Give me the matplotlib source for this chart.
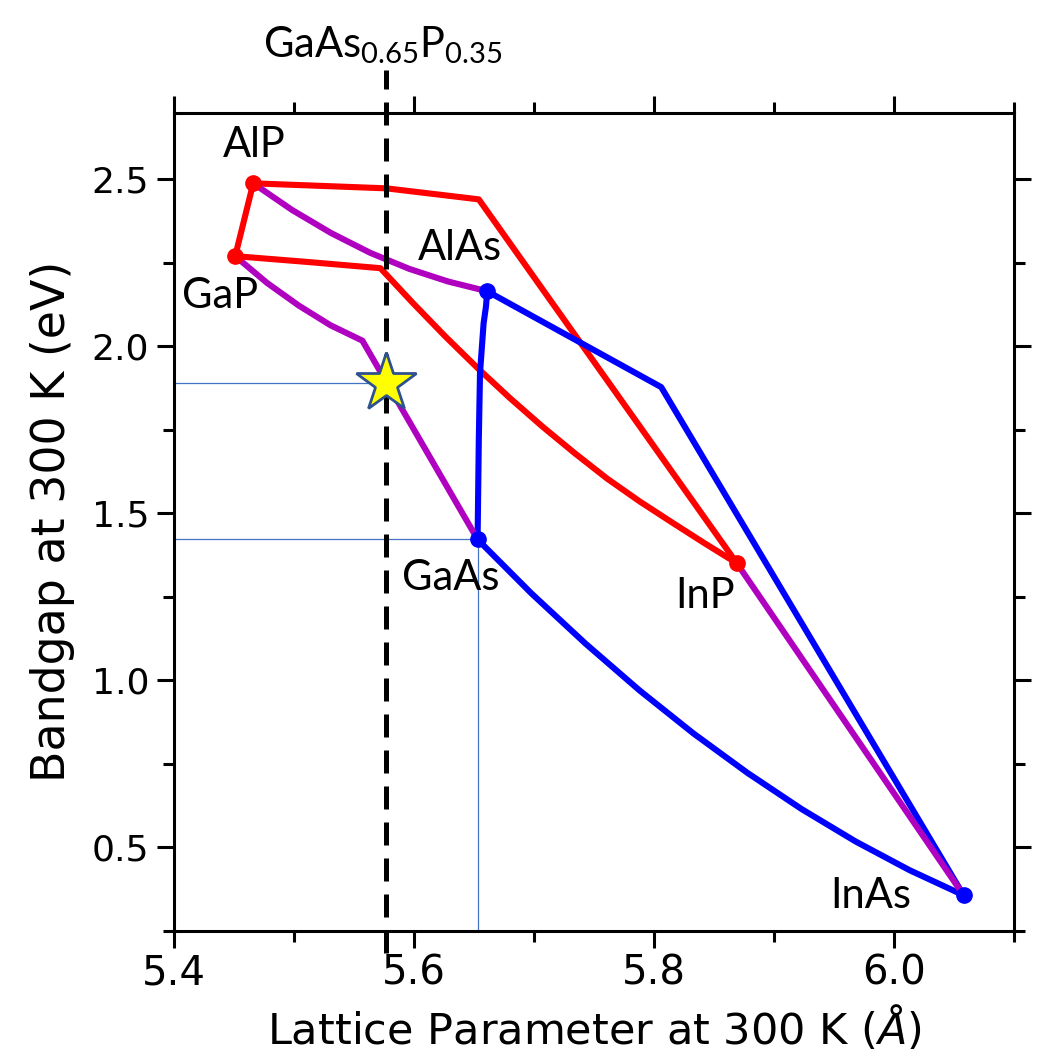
import numpy as np
import matplotlib
matplotlib.use("Agg")
import matplotlib.pyplot as plt
from matplotlib.ticker import MultipleLocator

# ---- data (lattice parameter in Angstrom, bandgap in eV) ----
binaries = ["AlP", "GaP", "AlAs", "GaAs", "InP", "InAs"]
bin_a = [5.466, 5.451, 5.661, 5.653, 5.869, 6.058]
bin_eg = [2.488, 2.270, 2.165, 1.422, 1.351, 0.357]
bin_colors = ["red", "red", "blue", "blue", "red", "blue"]

# red (phosphide) ternaries
alp_gap_a = [5.466, 5.451]
alp_gap_eg = [2.488, 2.270]
alp_inp_a = [5.466, 5.577, 5.654, 5.869]
alp_inp_eg = [2.488, 2.473, 2.440, 1.351]
gap_inp_a = [5.451, 5.510, 5.572, 5.599, 5.626, 5.653, 5.680, 5.707, 5.734,
             5.761, 5.788, 5.815, 5.842, 5.869]
gap_inp_eg = [2.270, 2.253, 2.234, 2.130, 2.030, 1.935, 1.845, 1.760, 1.680,
              1.604, 1.536, 1.473, 1.411, 1.351]

# purple (mixed-anion) ternaries
alp_alas_a = [5.466, 5.4985, 5.531, 5.5635, 5.596, 5.6285, 5.661]
alp_alas_eg = [2.488, 2.408, 2.339, 2.280, 2.232, 2.194, 2.165]
gap_gaas_a = [5.451, 5.4775, 5.504, 5.5305, 5.557, 5.653]
gap_gaas_eg = [2.270, 2.190, 2.122, 2.063, 2.017, 1.422]
inp_inas_a = [5.869, 6.058]
inp_inas_eg = [1.351, 0.357]

# blue (arsenide) ternaries
alas_gaas_a = [5.661, 5.660, 5.658, 5.655, 5.654, 5.653]
alas_gaas_eg = [2.165, 2.120, 2.069, 1.920, 1.720, 1.422]
alas_inas_a = [5.661, 5.806, 6.058]
alas_inas_eg = [2.165, 1.878, 0.357]
gaas_inas_a = [5.653, 5.698, 5.743, 5.788, 5.833, 5.878, 5.923, 5.968, 6.013, 6.058]
gaas_inas_eg = [1.422, 1.260, 1.110, 0.970, 0.841, 0.723, 0.615, 0.518, 0.432, 0.357]

# GaAs0.65P0.35 marker
target_a = 5.577
target_eg = 1.89

label_texts = ["AlP", "GaP", "AlAs", "GaAs", "InP", "InAs"]
label_x = [5.4668, 5.4384, 5.6386, 5.6303, 5.8422, 5.9807]
label_y = [2.602, 2.150, 2.2935, 1.306, 1.252, 0.355]

RED = "#FF0000"
BLUE = "#0000FF"
PURPLE = "#B000C0"
THIN = "#4472C4"

fig = plt.figure(figsize=(10.4, 10.58), dpi=100)
ax = fig.add_axes([174/1040, 127/1058, 840/1040, 818.5/1058])

lw = 4.4
# thin guide lines
ax.plot([5.4, target_a], [target_eg, target_eg], color=THIN, lw=0.9, zorder=1)
ax.plot([5.4, bin_a[3]], [bin_eg[3], bin_eg[3]], color=THIN, lw=0.9, zorder=1)
ax.plot([bin_a[3], bin_a[3]], [0.25, bin_eg[3]], color=THIN, lw=0.9, zorder=1)

for xs, ys, c in [
    (alp_gap_a, alp_gap_eg, RED),
    (alp_inp_a, alp_inp_eg, RED),
    (gap_inp_a, gap_inp_eg, RED),
    (alas_gaas_a, alas_gaas_eg, BLUE),
    (alas_inas_a, alas_inas_eg, BLUE),
    (gaas_inas_a, gaas_inas_eg, BLUE),
    (alp_alas_a, alp_alas_eg, PURPLE),
    (gap_gaas_a, gap_gaas_eg, PURPLE),
    (inp_inas_a, inp_inas_eg, PURPLE),
]:
    ax.plot(xs, ys, color=c, lw=lw, solid_joinstyle="round",
            solid_capstyle="round", zorder=3)

for a, e, c in zip(bin_a, bin_eg, bin_colors):
    ax.plot([a], [e], "o", color=RED if c == "red" else BLUE, ms=11, zorder=4)

# dashed composition line (extends beyond the axes)
ax.plot([target_a, target_a], [0.184, 2.826], color="black", lw=3.6,
        linestyle=(0, (4.6, 2.6)), clip_on=False, zorder=5)

ax.plot([target_a], [target_eg], marker="*", ms=45, color="#FFFF00",
        markeredgecolor="#2F528F", markeredgewidth=2, zorder=6)

for t, x, y in zip(label_texts, label_x, label_y):
    ax.text(x, y, t, family="Lato", fontsize=30, ha="center", va="center", zorder=7)

ax.text(5.5736, 2.901, r"$\mathregular{GaAs_{0.65}P_{0.35}}$", family="Lato",
        fontsize=30, ha="center", va="center", clip_on=False)

ax.set_xlim(5.4, 6.1)
ax.set_ylim(0.25, 2.7)
ax.xaxis.set_major_locator(MultipleLocator(0.2))
ax.xaxis.set_minor_locator(MultipleLocator(0.1))
ax.yaxis.set_major_locator(MultipleLocator(0.5))
ax.yaxis.set_minor_locator(MultipleLocator(0.25))
ax.tick_params(which="both", direction="out", top=True, right=True, width=2.2)
ax.tick_params(which="major", length=12)
ax.tick_params(which="minor", length=8)
ax.tick_params(axis="x", which="major", labelsize=29, pad=4)
ax.tick_params(axis="y", which="major", labelsize=26, pad=6)
for s in ax.spines.values():
    s.set_linewidth(2.2)

ax.set_xlabel(r"Lattice Parameter at 300 K ($\AA$)", fontsize=31, labelpad=8)
ax.set_ylabel("Bandgap at 300 K (eV)", fontsize=33, labelpad=12)

fig.savefig("out.png", dpi=100)
